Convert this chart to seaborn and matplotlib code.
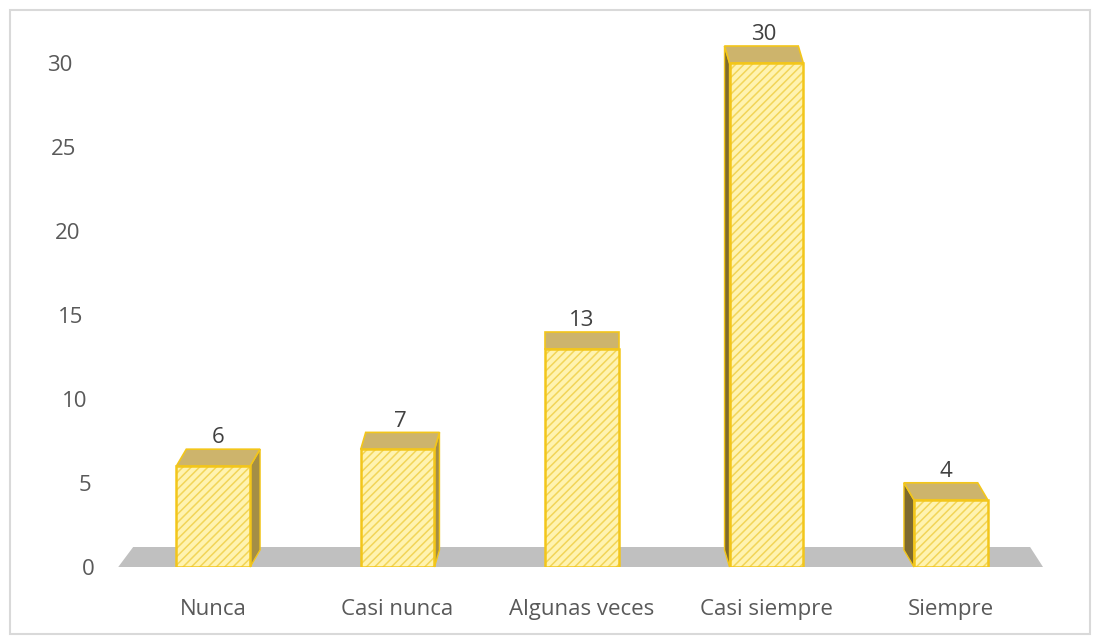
import matplotlib
matplotlib.use("Agg")
import matplotlib.pyplot as plt
import matplotlib.patches as mpatches
from matplotlib.transforms import ScaledTranslation
import seaborn as sns
import pandas as pd

categories = ["Nunca", "Casi nunca", "Algunas veces", "Casi siempre", "Siempre"]
values = [6, 7, 13, 30, 4]
yticks = [0, 5, 10, 15, 20, 25, 30]

sns.set_theme(style="white")
plt.rcParams["font.family"] = ["Open Sans", "DejaVu Sans"]
plt.rcParams["hatch.linewidth"] = 1.1

FRONT = "#fff3b0"
HATCH = "#f2d558"
EDGE = "#f3c61a"
TOP = "#cdb46c"
RSIDE = "#a48e45"
LSIDE = "#7e6a2e"
FLOOR = "#c0c0c0"

W, H = 1100, 644
fig = plt.figure(figsize=(W / 100, H / 100), dpi=100)
fig.patch.set_facecolor("white")
fig.add_artist(mpatches.Rectangle((10 / W, 10 / H), 1080 / W, 624 / H,
                                  transform=fig.transFigure, fill=False,
                                  edgecolor="#d9d9d9", linewidth=1.5))

px_x = 184.5   # px per category
px_y = 16.8    # px per unit
ymax = 32
ax = fig.add_axes([121 / W, (H - 567) / H, (1043 - 121) / W, ymax * px_y / H])

df = pd.DataFrame({"cat": categories, "val": values})
sns.barplot(data=df, x="cat", y="val", width=0.4, color=FRONT, saturation=1,
            edgecolor=HATCH, linewidth=0, hatch="////", ax=ax, zorder=3)
ax.set_xlim(-0.5, 4.5)
ax.set_ylim(0, ymax)
bars = list(ax.patches)

dy = 17 / px_y
floor = mpatches.Polygon([(-0.515, 0), (4.5, 0), (4.43, 20 / px_y), (-0.434, 20 / px_y)],
                         closed=True, facecolor=FLOOR, edgecolor="none", zorder=1,
                         clip_on=False)
ax.add_patch(floor)

for i, p in enumerate(bars):
    x0, w, h = p.get_x(), p.get_width(), p.get_height()
    dx = -5 * (i - 2) / px_x
    ax.add_patch(mpatches.Rectangle((x0, 0), w, h, fill=False, edgecolor=EDGE,
                                    linewidth=1.8, zorder=4))
    top = mpatches.Polygon([(x0, h), (x0 + w, h), (x0 + w + dx, h + dy), (x0 + dx, h + dy)],
                           closed=True, facecolor=TOP, edgecolor=EDGE, linewidth=1.2,
                           zorder=2.5, clip_on=False)
    ax.add_patch(top)
    side = None
    if dx > 0:
        side = [(x0 + w, 0), (x0 + w + dx, dy), (x0 + w + dx, h + dy), (x0 + w, h)]
        sc = RSIDE
    elif dx < 0:
        side = [(x0, 0), (x0 + dx, dy), (x0 + dx, h + dy), (x0, h)]
        sc = LSIDE
    if side:
        ax.add_patch(mpatches.Polygon(side, closed=True, facecolor=sc, edgecolor=EDGE,
                                      linewidth=1.0, zorder=2.4, clip_on=False))
    ax.text(x0 + w / 2 + dx / 2, h + dy + 0.05, str(values[i]), ha="center", va="bottom",
            fontsize=16, color="#404040", clip_on=False, zorder=5)

ax.set_xlabel("")
ax.set_ylabel("")
ax.set_yticks(yticks)
ax.set_yticklabels([str(t) for t in yticks])
for s in ax.spines.values():
    s.set_visible(False)
ax.tick_params(axis="both", length=0, labelsize=16, labelcolor="#595959")
ax.tick_params(axis="x", pad=23)
ax.tick_params(axis="y", pad=19)
ax.grid(False)
for t, lbl in zip(yticks, ax.get_yticklabels()):
    shift = -22 * (t / 30) / 100
    lbl.set_transform(lbl.get_transform() + ScaledTranslation(shift, 0, fig.dpi_scale_trans))

fig.savefig("out.png", dpi=100, facecolor="white")
